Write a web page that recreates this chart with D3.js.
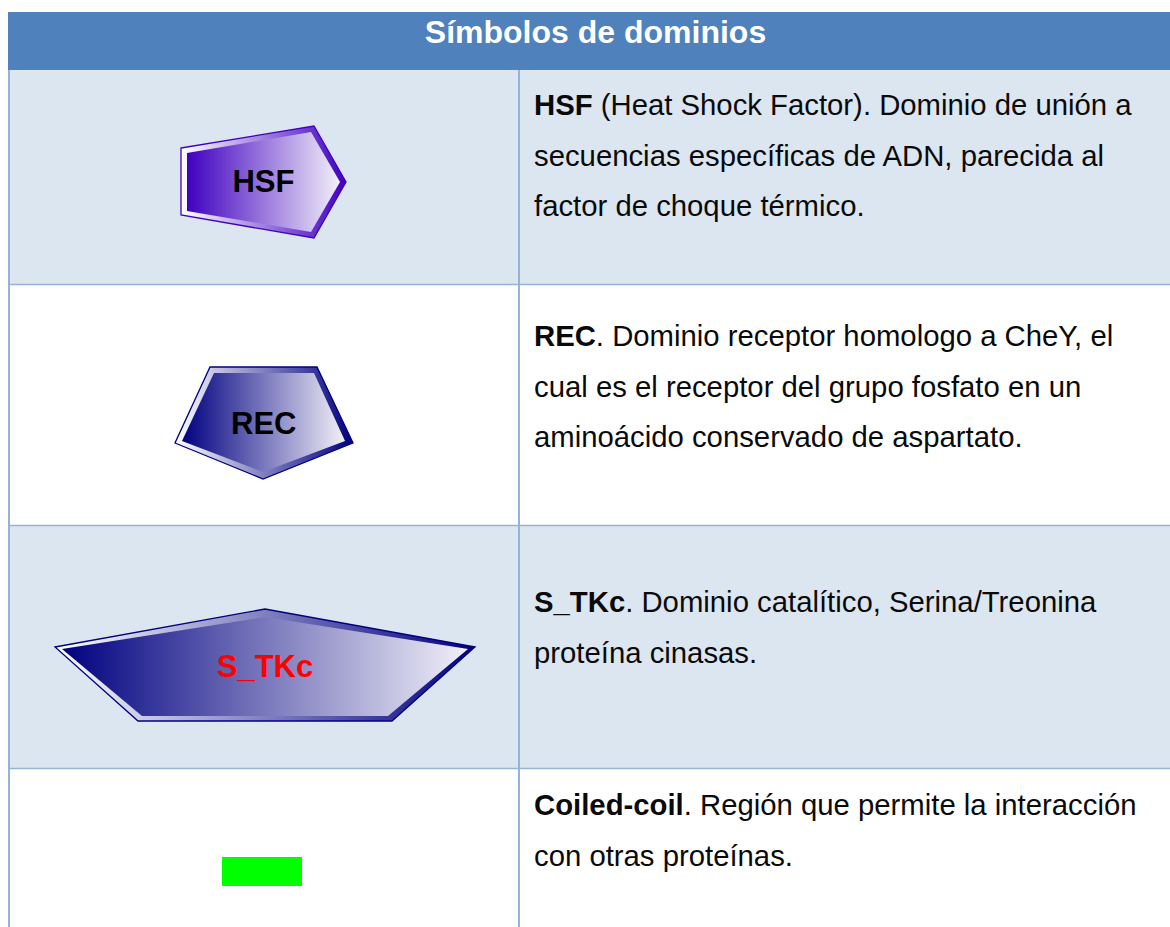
<!DOCTYPE html>
<html>
<head>
<meta charset="utf-8">
<script src="https://cdn.jsdelivr.net/npm/d3@7"></script>
<style>
html, body { margin: 0; padding: 0; background: #fff; }
svg { display: block; }
text { font-family: "Liberation Sans", Arial, sans-serif; }
</style>
</head>
<body>
<svg id="chart" width="1170" height="927"></svg>
<script>
var title = "Símbolos de dominios";
var symbols = ["HSF", "REC", "S_TKc", "Coiled-coil"];
var symbolLabels = ["HSF", "REC", "S_TKc", ""];
var labelColors = ["#000000", "#000000", "#ff0000", "#000000"];
var boldTerms = ["HSF", "REC", "S_TKc", "Coiled-coil"];
var descriptions = [
    [" (Heat Shock Factor). Dominio de unión a", "secuencias específicas de ADN, parecida al", "factor de choque térmico."],
    [". Dominio receptor homologo a CheY, el", "cual es el receptor del grupo fosfato en un", "aminoácido conservado de aspartato."],
    [". Dominio catalítico, Serina/Treonina", "proteína cinasas."],
    [". Región que permite la interacción", "con otras proteínas."]
];

// layout of the table
var width = 1170, height = 927;
var left = 8, divider = 519, headerTop = 12, headerBottom = 70;
var rowEdges = [70, 285, 526, 769, 927];
var textX = 534, fontSize = 29.3, lineHeight = 50.5;
var textFirstBase = [115, 346, 612, 815];

// glyph outlines, [outer, inner]
var glyphs = {
    "HSF": {
        outer: [[181,148],[314,126],[346,182],[314,238],[181,215]],
        inner: [[187,153],[311,132],[340,182],[311,232],[187,211]],
        dark: "#4000c0", labelY: 192, labelSize: 31
    },
    "REC": {
        outer: [[210,367],[317,367],[353,443],[263,479],[175,443]],
        inner: [[214,373],[314,373],[345,441],[263,472],[182,441]],
        dark: "#000080", labelY: 434, labelSize: 31
    },
    "S_TKc": {
        outer: [[55,647],[265,609],[475,647],[392,721],[138,721]],
        inner: [[62,649],[265,617],[468,649],[388,716],[142,716]],
        dark: "#000080", labelY: 677, labelSize: 31
    }
};

var svg = d3.select("#chart");
var rowTop = d3.scaleOrdinal().domain(symbols).range(rowEdges.slice(0, 4));
var rowBottom = d3.scaleOrdinal().domain(symbols).range(rowEdges.slice(1));

var defs = svg.append("defs");
function addGradient(id, from, to){
    var g = defs.append("linearGradient").attr("id", id)
        .attr("x1", "0%").attr("x2", "100%").attr("y1", "0%").attr("y2", "0%");
    g.append("stop").attr("offset", "0%").attr("stop-color", from);
    g.append("stop").attr("offset", "100%").attr("stop-color", to);
}

// header band
svg.append("rect")
    .attr("x", left).attr("y", headerTop)
    .attr("width", width - left).attr("height", headerBottom - headerTop)
    .attr("fill", "#4f81bd");
svg.append("text")
    .attr("x", 595.5).attr("y", 43)
    .attr("text-anchor", "middle")
    .attr("font-size", 32)
    .attr("font-weight", "bold")
    .attr("fill", "#ffffff")
    .text(title);

// rows
var rows = svg.selectAll("g.row")
    .data(symbols)
    .join("g")
    .attr("class", "row");

rows.append("rect")
    .attr("x", left)
    .attr("y", d => rowTop(d))
    .attr("width", width - left)
    .attr("height", d => rowBottom(d) - rowTop(d))
    .attr("fill", (d, i) => i % 2 == 0 ? "#dce6f1" : "#ffffff");

// borders
var border = "#95b3d7";
svg.selectAll("line.hline")
    .data(rowEdges.slice(1, 4))
    .join("line")
    .attr("class", "hline")
    .attr("x1", left).attr("x2", width)
    .attr("y1", d => d - 0.5).attr("y2", d => d - 0.5)
    .attr("stroke", border).attr("stroke-width", 1.5);
svg.selectAll("line.vline")
    .data([left + 1, divider])
    .join("line")
    .attr("class", "vline")
    .attr("x1", d => d).attr("x2", d => d)
    .attr("y1", headerBottom).attr("y2", height)
    .attr("stroke", border).attr("stroke-width", 2);

// glyphs
rows.filter(d => glyphs[d]).each(function(d, i){
    var g = glyphs[d];
    var line = d3.line().curve(d3.curveLinearClosed);
    addGradient("bevel" + i, "#ffffff", g.dark);
    addGradient("face" + i, g.dark, "#f2f0f8");
    d3.select(this).append("path")
        .attr("d", line(g.outer))
        .attr("fill", `url(#bevel${i})`)
        .attr("stroke", g.dark)
        .attr("stroke-width", 1.3);
    d3.select(this).append("path")
        .attr("d", line(g.inner))
        .attr("fill", `url(#face${i})`);
    d3.select(this).append("text")
        .attr("x", d3.polygonCentroid(g.outer)[0] + (d == "HSF" ? 1 : 0))
        .attr("y", g.labelY)
        .attr("text-anchor", "middle")
        .attr("font-size", g.labelSize)
        .attr("font-weight", "bold")
        .attr("fill", labelColors[symbols.indexOf(d)])
        .text(symbolLabels[symbols.indexOf(d)]);
});

// coiled-coil marker
rows.filter(d => d == "Coiled-coil").append("rect")
    .attr("x", 222).attr("y", 857)
    .attr("width", 80).attr("height", 29)
    .attr("fill", "#00ff00");

// description text
rows.each(function(d, i){
    var t = d3.select(this).append("g");
    descriptions[i].forEach(function(s, j){
        var txt = t.append("text")
            .attr("x", textX)
            .attr("y", textFirstBase[i] + j * lineHeight)
            .attr("font-size", fontSize)
            .attr("fill", "#0a0a0a");
        if(j == 0){
            txt.append("tspan").attr("font-weight", "bold").text(boldTerms[i]);
        }
        txt.append("tspan").attr("xml:space", "preserve").style("white-space", "pre").text(s);
    });
});
</script>
</body>
</html>
